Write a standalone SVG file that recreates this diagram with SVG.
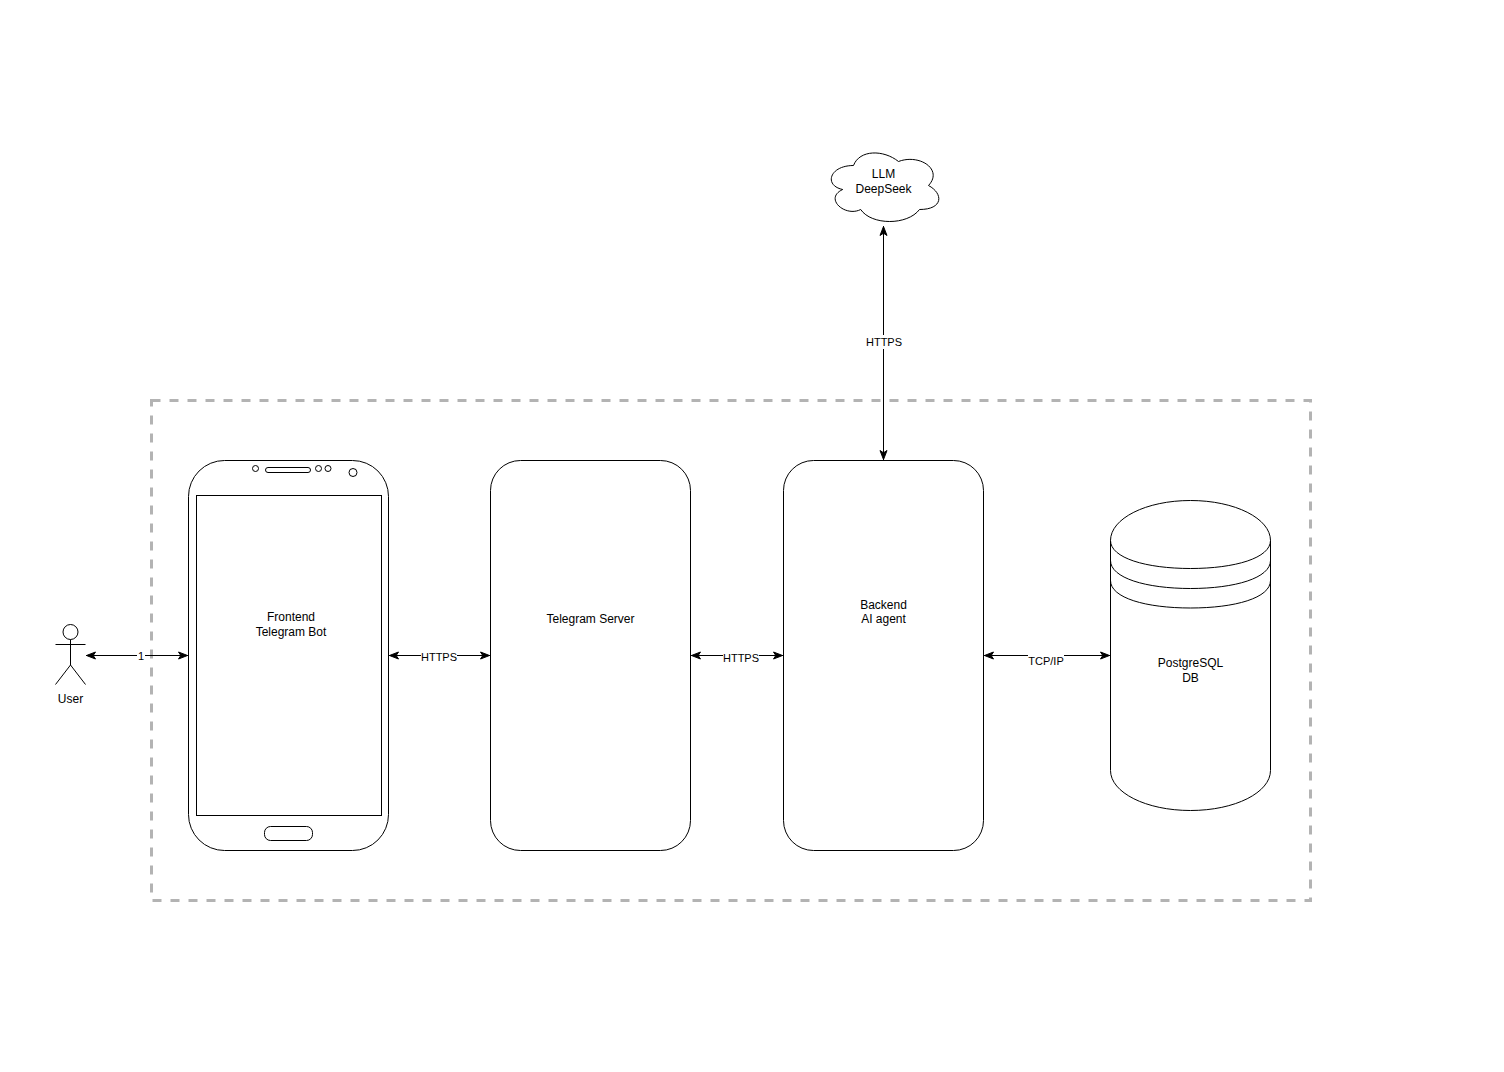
<svg xmlns="http://www.w3.org/2000/svg" width="1504" height="1072" viewBox="0 0 1504 1072">
<style>
.s{fill:#fff;stroke:#000;stroke-width:1}
.n{fill:none;stroke:#000;stroke-width:1}
.c{fill:none;stroke:#000;stroke-width:1;marker-start:url(#a);marker-end:url(#a)}
text{font-family:"Liberation Sans",Arial,sans-serif;font-size:12px;fill:#000;text-anchor:middle}
.e{font-size:11px}
.l{fill:#fff}
</style>
<defs>
<marker id="a" viewBox="0 0 11 10" refX="10" refY="5" markerWidth="11" markerHeight="10" markerUnits="userSpaceOnUse" orient="auto-start-reverse">
<path d="M0.500 1.500L9.500 5L0.500 8.500L2.800 5Z" fill="#000" stroke="#000" stroke-width="1"/>
</marker>
</defs>
<rect width="1504" height="1072" fill="#fff"/>
<rect id="boundary" x="151.500" y="400.500" width="1159" height="500" fill="none" stroke="#b3b3b3" stroke-width="3" stroke-dasharray="9 9"/>
<g id="user">
<circle class="n" cx="70.500" cy="632" r="7.500"/>
<path class="n" d="M70.500 639.500V665M55.500 644.500H85.500M70.500 665L55.500 684.500M70.500 665L85.500 684.500"/>
<text x="70.500" y="702.500">User</text>
</g>
<g id="frontend">
<rect class="s" x="188.500" y="460.500" width="200" height="390" rx="36" ry="36"/>
<rect class="n" x="196.500" y="495.500" width="185" height="320"/>
<circle class="n" cx="255.500" cy="468.500" r="3"/>
<rect class="n" x="265.500" y="467.500" width="45" height="5" rx="2.500"/>
<circle class="n" cx="318.500" cy="468.500" r="3"/>
<circle class="n" cx="328" cy="468.500" r="3"/>
<circle class="n" cx="353" cy="472.500" r="4"/>
<rect class="n" x="264.500" y="826.500" width="48" height="14" rx="6"/>
<text x="291" y="621">Frontend</text>
<text x="291" y="636">Telegram Bot</text>
</g>
<g id="telegram-server">
<rect class="s" x="490.500" y="460.500" width="200" height="390" rx="30" ry="30"/>
<text x="590.500" y="623">Telegram Server</text>
</g>
<g id="backend">
<rect class="s" x="783.500" y="460.500" width="200" height="390" rx="30" ry="30"/>
<text x="883.500" y="609">Backend</text>
<text x="883.500" y="623">AI agent</text>
</g>
<g id="postgres">
<path class="s" d="M1110.500 540.500C1110.500 518.500 1146 500.500 1190.500 500.500C1235 500.500 1270.500 518.500 1270.500 540.500V770.500C1270.500 792.500 1235 810.500 1190.500 810.500C1146 810.500 1110.500 792.500 1110.500 770.500Z"/>
<path class="n" d="M1110.500 540.500C1110.500 558 1146 568.500 1190.500 568.500C1235 568.500 1270.500 558 1270.500 540.500M1110.500 560.500C1110.500 578 1146 588.500 1190.500 588.500C1235 588.500 1270.500 578 1270.500 560.500M1110.500 580.500C1110.500 598 1146 608 1190.500 608C1235 608 1270.500 598 1270.500 580.500"/>
<text x="1190.500" y="667">PostgreSQL</text>
<text x="1190.500" y="682">DB</text>
</g>
<g id="llm">
<path class="s" d="M853.500 165.500C829.500 165.500 823.500 185.500 842.700 189.500C823.500 198.300 845.100 217.500 860.700 209.500C871.500 225.500 907.500 225.500 919.500 209.500C943.500 209.500 943.500 193.500 928.500 185.500C943.500 169.500 919.500 153.500 898.500 161.500C883.500 149.500 859.500 149.500 853.500 165.500Z"/>
<text x="883.500" y="178">LLM</text>
<text x="883.500" y="193">DeepSeek</text>
</g>
<g id="connectors">
<path class="c" d="M86 655.500H188"/>
<rect class="l" x="137" y="649" width="8" height="13"/>
<text class="e" x="141" y="660">1</text>
<path class="c" d="M389 655.500H490"/>
<rect class="l" x="421" y="649" width="36" height="13"/>
<text class="e" x="439" y="661">HTTPS</text>
<path class="c" d="M691 655.500H783"/>
<rect class="l" x="723" y="649" width="36" height="13"/>
<text class="e" x="741" y="662">HTTPS</text>
<path class="c" d="M984 655.500H1110"/>
<rect class="l" x="1028" y="649" width="36" height="13"/>
<text class="e" x="1046" y="665">TCP/IP</text>
<path class="c" d="M883.500 226V460"/>
<rect class="l" x="866" y="335" width="36" height="14"/>
<text class="e" x="884" y="346">HTTPS</text>
</g>
</svg>
